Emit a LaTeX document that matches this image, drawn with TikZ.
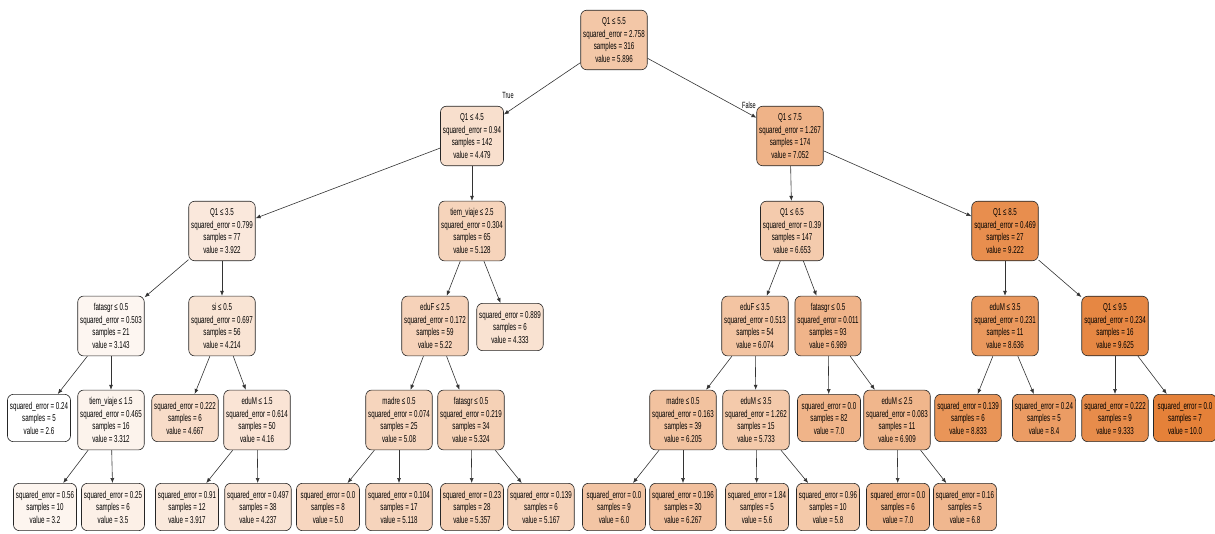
\documentclass[tikz,border=0pt]{standalone}
\usepackage{fontspec}
\setmainfont{Liberation Sans}[FakeStretch=0.62]
\usetikzlibrary{arrows.meta}
\definecolor{treeorange}{RGB}{229,129,57}

\begin{document}
\begin{tikzpicture}[x=1pt,y=-1pt,
    box/.style={draw=black!85, line width=0.6pt, rounded corners=6pt, align=center,
        font=\fontsize{10}{12.5}\selectfont, inner xsep=2.5pt, inner ysep=7.5pt,
        minimum width=63pt, fill=treeorange!#1!white},
    edge/.style={draw=black!80, line width=0.6pt, -{Latex[length=5pt,width=4pt]}},
    branch/.style={font=\fontsize{9}{10}\selectfont}]

\useasboundingbox (0,0) rectangle (1215,534);

\node[box=44.5] (node0) at (614,40) {Q1 ≤ 5.5\\squared\_error = 2.758\\samples = 316\\value = 5.896}; % root
\node[box=25.4] (node1) at (472,136) {Q1 ≤ 4.5\\squared\_error = 0.94\\samples = 142\\value = 4.479};
\node[box=17.9] (node2) at (222,231) {Q1 ≤ 3.5\\squared\_error = 0.799\\samples = 77\\value = 3.922};
\node[box=7.3] (node3) at (111,326) {fatasgr ≤ 0.5\\squared\_error = 0.503\\samples = 21\\value = 3.143};
\node[box=0] (node4) at (39,418) {squared\_error = 0.24\\samples = 5\\value = 2.6}; % leaf
\node[box=9.6] (node5) at (111,420) {tiem\_viaje ≤ 1.5\\squared\_error = 0.465\\samples = 16\\value = 3.312};
\node[box=8.1] (node6) at (45,507) {squared\_error = 0.56\\samples = 10\\value = 3.2}; % leaf
\node[box=12.2] (node7) at (113,507) {squared\_error = 0.25\\samples = 6\\value = 3.5}; % leaf
\node[box=21.8] (node8) at (222,326) {si ≤ 0.5\\squared\_error = 0.697\\samples = 56\\value = 4.214};
\node[box=27.9] (node9) at (185,418) {squared\_error = 0.222\\samples = 6\\value = 4.667}; % leaf
\node[box=21.1] (node10) at (257,420) {eduM ≤ 1.5\\squared\_error = 0.614\\samples = 50\\value = 4.16};
\node[box=17.8] (node11) at (187,507) {squared\_error = 0.91\\samples = 12\\value = 3.917}; % leaf
\node[box=22.1] (node12) at (258,507) {squared\_error = 0.497\\samples = 38\\value = 4.237}; % leaf
\node[box=34.2] (node13) at (472,231) {tiem\_viaje ≤ 2.5\\squared\_error = 0.304\\samples = 65\\value = 5.128};
\node[box=35.4] (node14) at (435,326) {eduF ≤ 2.5\\squared\_error = 0.172\\samples = 59\\value = 5.22};
\node[box=33.5] (node15) at (399,420) {madre ≤ 0.5\\squared\_error = 0.074\\samples = 25\\value = 5.08};
\node[box=32.4] (node16) at (328,507) {squared\_error = 0.0\\samples = 8\\value = 5.0}; % leaf
\node[box=34.0] (node17) at (399,507) {squared\_error = 0.104\\samples = 17\\value = 5.118}; % leaf
\node[box=36.8] (node18) at (471,420) {fatasgr ≤ 0.5\\squared\_error = 0.219\\samples = 34\\value = 5.324};
\node[box=37.3] (node19) at (472,507) {squared\_error = 0.23\\samples = 28\\value = 5.357}; % leaf
\node[box=34.7] (node20) at (541,507) {squared\_error = 0.139\\samples = 6\\value = 5.167}; % leaf
\node[box=23.4] (node21) at (510,327) {squared\_error = 0.889\\samples = 6\\value = 4.333}; % leaf
\node[box=60.2] (node22) at (790,136) {Q1 ≤ 7.5\\squared\_error = 1.267\\samples = 174\\value = 7.052};
\node[box=41.3] (node23) at (792,231) {Q1 ≤ 6.5\\squared\_error = 0.39\\samples = 147\\value = 6.653};
\node[box=46.9] (node24) at (755,326) {eduF ≤ 3.5\\squared\_error = 0.513\\samples = 54\\value = 6.074};
\node[box=48.7] (node25) at (683,420) {madre ≤ 0.5\\squared\_error = 0.163\\samples = 39\\value = 6.205};
\node[box=45.9] (node26) at (614,507) {squared\_error = 0.0\\samples = 9\\value = 6.0}; % leaf
\node[box=49.6] (node27) at (683,507) {squared\_error = 0.196\\samples = 30\\value = 6.267}; % leaf
\node[box=42.3] (node28) at (756,420) {eduM ≤ 3.5\\squared\_error = 1.262\\samples = 15\\value = 5.733};
\node[box=40.5] (node29) at (757,507) {squared\_error = 1.84\\samples = 5\\value = 5.6}; % leaf
\node[box=43.2] (node30) at (828,507) {squared\_error = 0.96\\samples = 10\\value = 5.8}; % leaf
\node[box=59.3] (node31) at (828,326) {fatasgr ≤ 0.5\\squared\_error = 0.011\\samples = 93\\value = 6.989};
\node[box=59.5] (node32) at (829,418) {squared\_error = 0.0\\samples = 82\\value = 7.0}; % leaf
\node[box=58.2] (node33) at (897,420) {eduM ≤ 2.5\\squared\_error = 0.083\\samples = 11\\value = 6.909};
\node[box=59.5] (node34) at (898,507) {squared\_error = 0.0\\samples = 6\\value = 7.0}; % leaf
\node[box=56.8] (node35) at (965,507) {squared\_error = 0.16\\samples = 5\\value = 6.8}; % leaf
\node[box=89.5] (node36) at (1005,231) {Q1 ≤ 8.5\\squared\_error = 0.469\\samples = 27\\value = 9.222};
\node[box=81.6] (node37) at (1005,326) {eduM ≤ 3.5\\squared\_error = 0.231\\samples = 11\\value = 8.636};
\node[box=84.2] (node38) at (968,418) {squared\_error = 0.139\\samples = 6\\value = 8.833}; % leaf
\node[box=78.4] (node39) at (1044,418) {squared\_error = 0.24\\samples = 5\\value = 8.4}; % leaf
\node[box=94.9] (node40) at (1115,326) {Q1 ≤ 9.5\\squared\_error = 0.234\\samples = 16\\value = 9.625};
\node[box=91.0] (node41) at (1115,418) {squared\_error = 0.222\\samples = 9\\value = 9.333}; % leaf
\node[box=100] (node42) at (1185,418) {squared\_error = 0.0\\samples = 7\\value = 10.0}; % leaf

\draw[edge] (node0) -- (node1);
\draw[edge] (node0) -- (node22);
\draw[edge] (node1) -- (node2);
\draw[edge] (node1) -- (node13);
\draw[edge] (node2) -- (node3);
\draw[edge] (node2) -- (node8);
\draw[edge] (node3) -- (node4);
\draw[edge] (node3) -- (node5);
\draw[edge] (node5) -- (node6);
\draw[edge] (node5) -- (node7);
\draw[edge] (node8) -- (node9);
\draw[edge] (node8) -- (node10);
\draw[edge] (node10) -- (node11);
\draw[edge] (node10) -- (node12);
\draw[edge] (node13) -- (node14);
\draw[edge] (node13) -- (node21);
\draw[edge] (node14) -- (node15);
\draw[edge] (node14) -- (node18);
\draw[edge] (node15) -- (node16);
\draw[edge] (node15) -- (node17);
\draw[edge] (node18) -- (node19);
\draw[edge] (node18) -- (node20);
\draw[edge] (node22) -- (node23);
\draw[edge] (node22) -- (node36);
\draw[edge] (node23) -- (node24);
\draw[edge] (node23) -- (node31);
\draw[edge] (node24) -- (node25);
\draw[edge] (node24) -- (node28);
\draw[edge] (node25) -- (node26);
\draw[edge] (node25) -- (node27);
\draw[edge] (node28) -- (node29);
\draw[edge] (node28) -- (node30);
\draw[edge] (node31) -- (node32);
\draw[edge] (node31) -- (node33);
\draw[edge] (node33) -- (node34);
\draw[edge] (node33) -- (node35);
\draw[edge] (node36) -- (node37);
\draw[edge] (node36) -- (node40);
\draw[edge] (node37) -- (node38);
\draw[edge] (node37) -- (node39);
\draw[edge] (node40) -- (node41);
\draw[edge] (node40) -- (node42);

\node[branch] (lblTrue) at (508,95) {True};
\node[branch] (lblFalse) at (749,105) {False};
\end{tikzpicture}
\end{document}
